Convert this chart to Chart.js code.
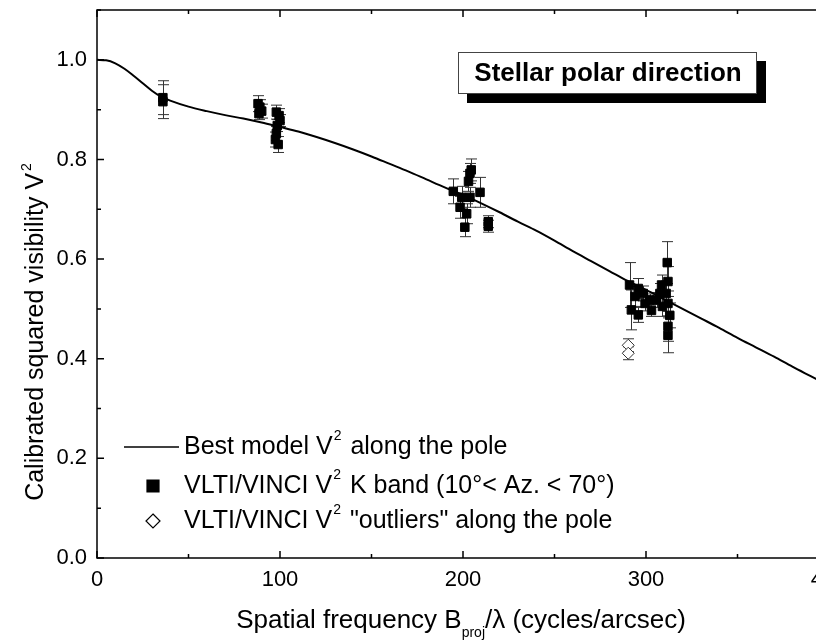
<!DOCTYPE html>
<html>
<head>
<meta charset="utf-8">
<script src="https://cdn.jsdelivr.net/npm/chart.js@4"></script>
<style>
    html, body { margin: 0; padding: 0; background: #fff; overflow: hidden; }
    #wrap { width: 860px; height: 640px; }
</style>
</head>
<body>
<div id="wrap"><canvas id="vis-chart" width="860" height="640"></canvas></div>
<script>
// best-fit model along the pole
const modelFreq = [0, 5, 10, 15, 20, 25, 30, 35, 40, 50, 60, 70, 80, 90, 100, 110, 120, 130, 140, 150,
                   160, 170, 180, 190, 200, 210, 220, 230, 240, 250, 260, 270, 280, 290, 300, 310,
                   320, 330, 340, 350, 360, 370, 380, 390, 400];
const modelV2   = [1.000, 0.999, 0.993, 0.982, 0.968, 0.953, 0.938, 0.926, 0.918, 0.906, 0.897, 0.889,
                   0.882, 0.874, 0.865, 0.856, 0.845, 0.833, 0.820, 0.806, 0.791, 0.776, 0.760, 0.744,
                   0.729, 0.712, 0.694, 0.675, 0.657, 0.637, 0.616, 0.596, 0.576, 0.556, 0.538, 0.519,
                   0.500, 0.481, 0.462, 0.442, 0.423, 0.404, 0.384, 0.365, 0.346];

// VLTI/VINCI K band measurements
const vinciFreq = [36, 36,
                   88, 89, 90, 88.5, 98, 99.5, 100, 98.5, 98, 97.5, 99,
                   204.5, 203.8, 203, 194.7, 209.3, 199.3, 203.8, 198.4, 202, 201, 213.8, 213.8,
                   291, 292, 295.8, 294, 295.8, 298.5, 299.5, 302, 303, 305.8, 307.6, 308.5,
                   311.6, 312, 311, 312, 313, 312, 312, 309];
const vinciV2   = [0.924, 0.916,
                   0.912, 0.905, 0.897, 0.892, 0.895, 0.888, 0.878, 0.868, 0.852, 0.840, 0.830,
                   0.779, 0.772, 0.756, 0.736, 0.734, 0.724, 0.724, 0.704, 0.691, 0.664, 0.675, 0.666,
                   0.548, 0.498, 0.541, 0.525, 0.488, 0.531, 0.511, 0.518, 0.497, 0.518, 0.531, 0.548,
                   0.593, 0.555, 0.531, 0.511, 0.487, 0.465, 0.447, 0.505];
const vinciErr  = [0.034, 0.034,
                   0.016, 0.015, 0.014, 0.012, 0.014, 0.014, 0.012, 0.012, 0.014, 0.015, 0.016,
                   0.022, 0.020, 0.020, 0.025, 0.030, 0.022, 0.020, 0.022, 0.020, 0.019, 0.012, 0.012,
                   0.045, 0.040, 0.020, 0.020, 0.015, 0.015, 0.015, 0.012, 0.012, 0.015, 0.020, 0.020,
                   0.042, 0.030, 0.025, 0.025, 0.025, 0.030, 0.035, 0.020];

// "outliers" along the pole
const outlierFreq = [290.3, 290.3];
const outlierV2   = [0.427, 0.411];
const outlierErr  = [0.013, 0.013];

const xTickValues = [0, 100, 200, 300, 400];
const yTickValues = [0.0, 0.2, 0.4, 0.6, 0.8, 1.0];

const FONT = "'Liberation Sans', Arial, Helvetica, sans-serif";

const toPoints = (xs, ys) => xs.map((x, i) => ({ x, y: ys[i] }));


// vertical error bars with caps, drawn under the markers
const errorBars = {
    id : 'errorBars',
    beforeDatasetsDraw(chart) {
        const { ctx, scales: { x, y } } = chart;
        const sets = [[vinciFreq, vinciV2, vinciErr], [outlierFreq, outlierV2, outlierErr]];
        ctx.save();
        ctx.strokeStyle = '#333';
        ctx.lineWidth   = 1;
        sets.forEach(([xs, ys, es]) => {
            xs.forEach((fx, i) => {
                const px  = Math.round(x.getPixelForValue(fx)) + 0.5;
                const top = y.getPixelForValue(ys[i] + es[i]);
                const bot = y.getPixelForValue(ys[i] - es[i]);
                ctx.beginPath();
                ctx.moveTo(px, top);       ctx.lineTo(px, bot);
                ctx.moveTo(px - 5.5, top); ctx.lineTo(px + 5.5, top);
                ctx.moveTo(px - 5.5, bot); ctx.lineTo(px + 5.5, bot);
                ctx.stroke();
            });
        });
        ctx.restore();
    },
};


// frame, inward ticks, axis titles, boxed label and the legend
const decorations = {
    id : 'decorations',
    afterDraw(chart) {
        const { ctx, chartArea: a, scales: { x, y } } = chart;
        ctx.save();

        ctx.strokeStyle = '#000';
        ctx.lineWidth   = 1.5;
        ctx.strokeRect(a.left, a.top, a.right - a.left, a.bottom - a.top);

        ctx.beginPath();
        for (let v = 0; v <= 400; v += 50) {
            const px  = x.getPixelForValue(v);
            const len = v % 100 === 0 ? 7 : 4;
            ctx.moveTo(px, a.bottom); ctx.lineTo(px, a.bottom - len);
            ctx.moveTo(px, a.top);    ctx.lineTo(px, a.top + len);
        }
        for (let k = 0; k <= 11; k++) {
            const py  = y.getPixelForValue(k / 10);
            const len = k % 2 === 0 ? 7 : 4;
            ctx.moveTo(a.left, py);  ctx.lineTo(a.left + len, py);
            ctx.moveTo(a.right, py); ctx.lineTo(a.right - len, py);
        }
        ctx.stroke();

        ctx.fillStyle = '#000';

        // x title with subscript
        ctx.textBaseline = 'alphabetic';
        ctx.textAlign    = 'left';
        const big = `26px ${FONT}`, small = `14px ${FONT}`;
        const p1 = 'Spatial frequency B', sub = 'proj', p2 = '/\u03bb (cycles/arcsec)';
        ctx.font = big;   const w1 = ctx.measureText(p1).width, w3 = ctx.measureText(p2).width;
        ctx.font = small; const w2 = ctx.measureText(sub).width;
        let tx = 461 - (w1 + w2 + w3) / 2;
        const ty = 628;
        ctx.font = big;   ctx.fillText(p1, tx, ty); tx += w1;
        ctx.font = small; ctx.fillText(sub, tx, ty + 9); tx += w2;
        ctx.font = big;   ctx.fillText(p2, tx, ty);

        // y title with superscript
        ctx.save();
        ctx.translate(43, 333);
        ctx.rotate(-Math.PI / 2);
        const yt = 'Calibrated squared visibility V';
        const ybig = `25px ${FONT}`;
        ctx.font = ybig;  const wy = ctx.measureText(yt).width;
        ctx.font = small; const ws = ctx.measureText('2').width;
        const sx = -(wy + ws) / 2;
        ctx.font = ybig;  ctx.fillText(yt, sx, 0);
        ctx.font = small; ctx.fillText('2', sx + wy + 2, -12);
        ctx.restore();

        // boxed label with drop shadow
        ctx.fillRect(467, 61, 299, 42);
        ctx.fillStyle = '#fff';
        ctx.fillRect(458, 52, 299, 42);
        ctx.strokeStyle = '#444';
        ctx.lineWidth   = 1;
        ctx.strokeRect(458.5, 52.5, 298, 41);
        ctx.fillStyle    = '#000';
        ctx.font         = `bold 26px ${FONT}`;
        ctx.textAlign    = 'center';
        ctx.textBaseline = 'middle';
        ctx.fillText('Stellar polar direction', 608, 74);

        // legend
        const rows = [
            { mark: 'line',    y: 447, parts: ['Best model V', '2', ' along the pole'] },
            { mark: 'rect',    y: 486, parts: ['VLTI/VINCI V', '2', ' K band (10\u00b0< Az. < 70\u00b0)'] },
            { mark: 'rectRot', y: 521, parts: ['VLTI/VINCI V', '2', ' "outliers" along the pole'] },
        ];
        const lf = `25px ${FONT}`, ls = `14px ${FONT}`;
        rows.forEach((r) => {
            ctx.strokeStyle = '#000';
            if (r.mark === 'line') {
                ctx.lineWidth = 1.5;
                ctx.beginPath();
                ctx.moveTo(124, r.y); ctx.lineTo(179, r.y);
                ctx.stroke();
            } else {
                ctx.fillStyle = r.mark === 'rect' ? '#000' : '#fff';
                ctx.lineWidth = 1.2;
                ctx.beginPath();
                if (r.mark === 'rect') {
                    ctx.rect(147, r.y - 6, 12, 12);
                } else {
                    ctx.moveTo(153, r.y - 7); ctx.lineTo(160, r.y);
                    ctx.lineTo(153, r.y + 7); ctx.lineTo(146, r.y); ctx.closePath();
                }
                ctx.fill();
                ctx.stroke();
            }
            ctx.fillStyle    = '#000';
            ctx.textAlign    = 'left';
            ctx.textBaseline = 'middle';
            let lx = 184;
            ctx.font = lf; ctx.fillText(r.parts[0], lx, r.y); lx += ctx.measureText(r.parts[0]).width + 1;
            ctx.font = ls; ctx.fillText(r.parts[1], lx, r.y - 11); lx += ctx.measureText(r.parts[1]).width + 2;
            ctx.font = lf; ctx.fillText(r.parts[2], lx, r.y);
        });

        ctx.restore();
    },
};


function init() {
    const ctx = document.getElementById('vis-chart').getContext('2d');

    new Chart(ctx, {
        type : 'scatter',
        data : {
            datasets : [
                {
                    type             : 'line',
                    data             : toPoints(modelFreq, modelV2),
                    borderColor      : '#000',
                    borderWidth      : 2,
                    pointRadius      : 0,
                    fill             : false,
                    cubicInterpolationMode : 'monotone',
                    order            : 3,
                },
                {
                    data             : toPoints(vinciFreq, vinciV2),
                    pointStyle       : 'rect',
                    pointRadius      : 6,
                    backgroundColor  : '#000',
                    borderColor      : '#000',
                    borderWidth      : 1,
                    order            : 1,
                },
                {
                    data             : toPoints(outlierFreq, outlierV2),
                    pointStyle       : 'rectRot',
                    pointRadius      : 6,
                    backgroundColor  : '#fff',
                    borderColor      : '#333',
                    borderWidth      : 1,
                    order            : 2,
                },
            ],
        },
        options : {
            responsive : false,
            animation  : false,
            layout     : { padding: { top: 10, right: 31, left: 0, bottom: 0 } },
            plugins    : { legend: { display: false }, tooltip: { enabled: false } },
            scales : {
                x : {
                    type : 'linear',
                    min  : 0,
                    max  : 400,
                    afterBuildTicks : (s) => { s.ticks = xTickValues.map((v) => ({ value: v })); },
                    afterFit        : (s) => { s.height = 82; s.paddingLeft = 0; s.paddingRight = 0; },
                    grid   : { display: false, drawTicks: false },
                    border : { display: false },
                    ticks  : {
                        color       : '#000',
                        font        : { family: FONT, size: 22 },
                        padding     : 9,
                        maxRotation : 0,
                        callback    : (v) => String(v),
                    },
                },
                y : {
                    type : 'linear',
                    min  : 0,
                    max  : 1.1,
                    afterBuildTicks : (s) => { s.ticks = yTickValues.map((v) => ({ value: v })); },
                    afterFit        : (s) => { s.width = 97; s.paddingTop = 0; s.paddingBottom = 0; },
                    grid   : { display: false, drawTicks: false },
                    border : { display: false },
                    ticks  : {
                        color    : '#000',
                        font     : { family: FONT, size: 22 },
                        padding  : 10,
                        callback : (v) => v.toFixed(1),
                    },
                },
            },
        },
        plugins : [errorBars, decorations],
    });
}

document.addEventListener('DOMContentLoaded', init);
</script>
</body>
</html>
